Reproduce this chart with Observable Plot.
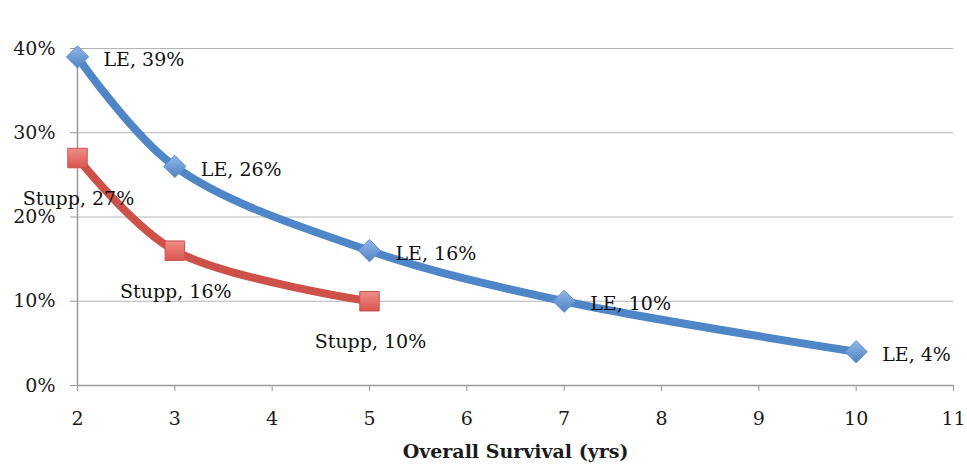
<!DOCTYPE html>
<html>
<head>
<meta charset="utf-8">
<script src="https://cdn.jsdelivr.net/npm/d3@7"></script>
<script src="https://cdn.jsdelivr.net/npm/@observablehq/plot@0.6"></script>
<style>
  html, body { margin: 0; padding: 0; background: #fff; }
  #chart svg [aria-label="x-axis label"] text { font-weight: bold; }
</style>
</head>
<body>
<div id="chart"></div>
<script>
const leName = "LE";
const leYears = [2, 3, 5, 7, 10];
const leValues = [39, 26, 16, 10, 4];
const stuppName = "Stupp";
const stuppYears = [2, 3, 5];
const stuppValues = [27, 16, 10];
const xTicks = [2, 3, 4, 5, 6, 7, 8, 9, 10, 11];
const yTicks = [0, 10, 20, 30, 40];
const xTitle = "Overall Survival (yrs)";

const le = leYears.map((x, i) => ({x, y: leValues[i], label: `${leName}, ${leValues[i]}%`}));
const stupp = stuppYears.map((x, i) => ({x, y: stuppValues[i], label: `${stuppName}, ${stuppValues[i]}%`}));

const gridColor = "#b5b5b5";
const blue = "#4f86c8";
const red = "#cd5049";

const chart = Plot.plot({
  width: 967,
  height: 465,
  marginTop: 48,
  marginBottom: 80,
  marginLeft: 77,
  marginRight: 14,
  style: {fontFamily: "DejaVu Serif", fontSize: "19px", color: "#1a1a1a", background: "#fff"},
  x: {domain: [2, 11], ticks: xTicks},
  y: {domain: [0, 40], ticks: yTicks},
  marks: [
    Plot.ruleY(yTicks, {stroke: gridColor, strokeWidth: 1.2}),
    Plot.ruleX([2], {y1: 0, y2: 40, stroke: "#999", strokeWidth: 1.5}),
    Plot.ruleY([0], {stroke: "#999", strokeWidth: 1.5}),
    Plot.axisY({ticks: yTicks, tickFormat: d => d + "%", tickSize: 7, tickPadding: 15, stroke: "#999", label: null, fontSize: 19}),
    Plot.axisX({ticks: xTicks, tickSize: 6, tickPadding: 20, stroke: "#999", fontSize: 19,
      label: xTitle, labelAnchor: "center", labelArrow: "none", labelOffset: 72}),
    Plot.line(le, {x: "x", y: "y", stroke: blue, strokeWidth: 8, curve: "catmull-rom", strokeLinecap: "round"}),
    Plot.line(stupp, {x: "x", y: "y", stroke: red, strokeWidth: 8, curve: "catmull-rom", strokeLinecap: "round"}),
    Plot.dot(le, {x: "x", y: "y", symbol: "diamond2", r: 10, fill: "url(#blueGrad)", stroke: "#5d8fcf", strokeWidth: 1}),
    Plot.dot(stupp, {x: "x", y: "y", symbol: "square", r: 11, fill: "url(#redGrad)", stroke: "#c9554f", strokeWidth: 1}),
    Plot.text(le, {x: "x", y: "y", text: "label", textAnchor: "start", dx: 26, dy: 3, fill: "#111", fontSize: 19}),
    Plot.text(stupp, {x: "x", y: "y", text: "label", textAnchor: "middle", dx: 1, dy: 41, fill: "#111", fontSize: 19})
  ]
});

const svg = d3.select(chart);
const defs = svg.insert("defs", ":first-child");
const bg = defs.append("linearGradient").attr("id", "blueGrad").attr("x1", 0).attr("y1", 0).attr("x2", 0).attr("y2", 1);
bg.append("stop").attr("offset", "0%").attr("stop-color", "#93b8e8");
bg.append("stop").attr("offset", "100%").attr("stop-color", "#4f82c3");
const rg = defs.append("linearGradient").attr("id", "redGrad").attr("x1", 0).attr("y1", 0).attr("x2", 0).attr("y2", 1);
rg.append("stop").attr("offset", "0%").attr("stop-color", "#f08e89");
rg.append("stop").attr("offset", "100%").attr("stop-color", "#d9544e");

document.getElementById("chart").appendChild(chart);
</script>
</body>
</html>
